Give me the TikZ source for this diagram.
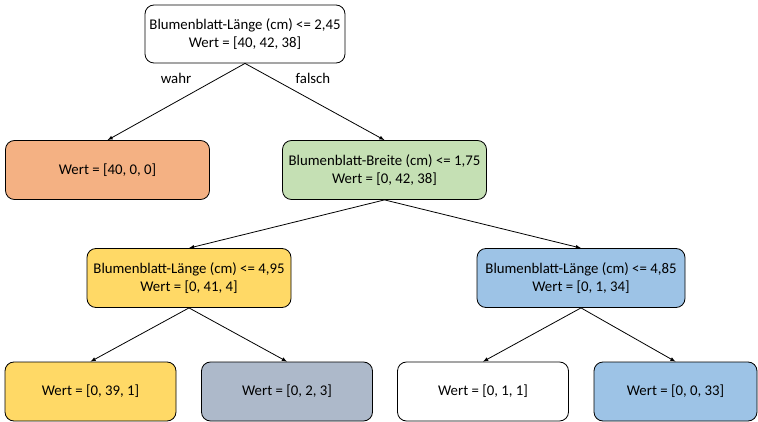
\documentclass[tikz,border=0pt]{standalone}
\usepackage{fontspec}
\setmainfont{Carlito}
\usetikzlibrary{shapes, arrows}
\definecolor{orangebox}{HTML}{F4B183}
\definecolor{greenbox}{HTML}{C5E0B4}
\definecolor{yellowbox}{HTML}{FFD966}
\definecolor{bluebox}{HTML}{9DC3E6}
\definecolor{graybox}{HTML}{ADB9CA}
\tikzstyle{block}=[draw, rectangle, rounded corners=9pt, align=center, inner sep=0pt, minimum height=59pt]
\tikzstyle{split}=[block, minimum width=204pt]
\tikzstyle{leaf}=[block, minimum width=171pt]
\tikzstyle{lbl}=[inner sep=0pt]

\begin{document}
\begin{tikzpicture}[x=1pt, y=-1pt, line width=0.8pt, font=\fontsize{14.8}{17.5}\selectfont]
		\useasboundingbox (0,0) rectangle (758,422);
		\node[block, minimum width=200pt, minimum height=58pt] (R) at (245,34) {Blumenblatt-Länge (cm) <= 2,45\\Wert = [40, 42, 38]};
		\node[split, fill=orangebox] (A) at (107.5,170) {Wert = [40, 0, 0]};
		\node[split, fill=greenbox] (B) at (384.5,170) {Blumenblatt-Breite (cm) <= 1,75\\Wert = [0, 42, 38]};
		\node[split, fill=yellowbox] (C) at (189,278) {Blumenblatt-Länge (cm) <= 4,95\\Wert = [0, 41, 4]};
		\node[split, fill=bluebox, minimum width=208pt] (D) at (581,278) {Blumenblatt-Länge (cm) <= 4,85\\Wert = [0, 1, 34]};
		\node[leaf, fill=yellowbox] (E) at (90.5,391.5) {Wert = [0, 39, 1]};
		\node[leaf, fill=graybox] (F) at (287,391.5) {Wert = [0, 2, 3]};
		\node[leaf] (G) at (483,391.5) {Wert = [0, 1, 1]};
		\node[leaf, fill=bluebox, minimum width=163pt] (H) at (675.5,391.5) {Wert = [0, 0, 33]};
		\node[lbl] (W) at (176,78) {wahr};
		\node[lbl] (N) at (313,78) {falsch};
		\draw[-latex] (R.south) -- (A.north);
		\draw[-latex] (R.south) -- (B.north);
		\draw[-latex] (B.south) -- (C.north);
		\draw[-latex] (B.south) -- (D.north);
		\draw[-latex] (C.south) -- (E.north);
		\draw[-latex] (C.south) -- (F.north);
		\draw[-latex] (D.south) -- (G.north);
		\draw[-latex] (D.south) -- (H.north);
	\end{tikzpicture}
\end{document}
